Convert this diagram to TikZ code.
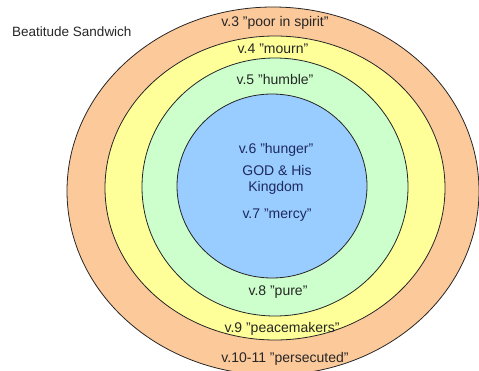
\documentclass[tikz,border=0pt]{standalone}
\usepackage{fontspec}
\setmainfont{Liberation Sans}
\usetikzlibrary{shapes.geometric}
\definecolor{peach}{HTML}{FCC99A}
\definecolor{paleyellow}{HTML}{FFFF99}
\definecolor{palegreen}{HTML}{CCFFCC}
\definecolor{paleblue}{HTML}{99CCFF}
\definecolor{ringtext}{HTML}{262626}
\definecolor{centertext}{HTML}{1E2A5E}
\tikzset{
  ring/.style={ellipse, draw=black!85, line width=0.8pt, inner sep=0pt},
  lbl/.style={font=\fontsize{14}{16}\selectfont, text=ringtext, inner sep=0pt, text height=9.5pt, text depth=2.5pt},
  clbl/.style={lbl, text=centertext}
}
\begin{document}
\begin{tikzpicture}[x=1pt,y=1pt]
\useasboundingbox (0,0) rectangle (479,370);
\begin{scope}
\clip (0,0) rectangle (479,370);
\node[ring, fill=peach, minimum width=412pt, minimum height=368pt] (r1) at (273,179) {};
\node[ring, fill=paleyellow, minimum width=340pt, minimum height=304pt] (r2) at (275,182) {};
\node[ring, fill=palegreen, minimum width=266pt, minimum height=258pt] (r3) at (275,183) {};
\node[ring, fill=paleblue, minimum width=190pt, minimum height=184pt] (r4) at (272,184) {};
\end{scope}
\node[lbl, anchor=west, font=\fontsize{13.5}{16}\selectfont] (title) at (12,337) {Beatitude Sandwich};
\node[lbl] (v3) at (275,347) {v.3 "poor in spirit"};
\node[lbl] (v4) at (273,320) {v.4 "mourn"};
\node[lbl] (v5) at (275,289) {v.5 "humble"};
\node[clbl] (v6) at (276,220) {v.6 "hunger"};
\node[clbl] (god) at (277,198) {GOD \& His};
\node[clbl] (kingdom) at (276,182) {Kingdom};
\node[clbl] (v7) at (277,155) {v.7 "mercy"};
\node[lbl] (v8) at (278,78) {v.8 "pure"};
\node[lbl] (v9) at (282,41) {v.9 "peacemakers"};
\node[lbl] (v10) at (285,11) {v.10-11 "persecuted"};
\end{tikzpicture}
\end{document}
